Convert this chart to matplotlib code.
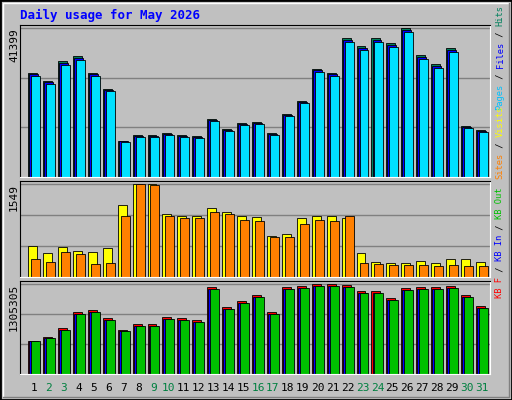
import matplotlib
matplotlib.use("Agg")
import matplotlib.pyplot as plt
import numpy as np

days = list(range(1, 32))
weekend = [2, 3, 9, 10, 16, 17, 23, 24, 30, 31]
hits = [29008, 26755, 32105, 33513, 29008, 24502, 10139, 11547, 11547, 12110, 11547, 11265, 16053, 13237, 14926, 15208,
        12110, 17461, 21122, 30134, 29008, 38584, 36331, 38584, 37176, 41399, 33796, 31261, 35767, 14082, 12955]
files = [h * 0.985 for h in hits]
pages = [h * 0.97 for h in hits]
visits = [522, 404, 505, 438, 421, 488, 1196, 1549, 1549, 1044, 1010, 1010, 1145, 1078, 1010, 994,
          690, 724, 977, 1010, 1010, 977, 404, 253, 236, 236, 269, 236, 303, 303, 253]
sites = [303, 253, 421, 387, 219, 236, 1010, 1549, 1532, 1010, 977, 977, 1078, 1044, 943, 926,
         674, 674, 876, 943, 926, 1010, 236, 219, 202, 202, 202, 185, 202, 185, 185]
kb_h = [33, 37, 45, 61, 63, 55, 44, 49, 49, 56, 55, 53, 86, 66, 72, 78, 61, 86, 87, 89, 89, 88, 82, 82, 75, 85, 86, 86, 87, 78, 67]
kbf = [h * 14666 for h in kb_h]
kbin = [v * 0.975 for v in kbf]
kbout = [v * 0.975 for v in kbf]

W, H = 512, 400
fig = plt.figure(figsize=(W / 100, H / 100), dpi=100)
fig.patch.set_facecolor("#C0C0C0")
mono = "DejaVu Sans Mono"
fig.add_artist(plt.Rectangle((0, 0), 1, 1, transform=fig.transFigure, fill=False, ec="black", lw=2))
fig.add_artist(plt.Line2D([3/W, 3/W, 1-3/W], [3/H, 1-3/H, 1-3/H], transform=fig.transFigure, color="white", lw=1))
fig.add_artist(plt.Line2D([3/W, 1-3/W, 1-3/W], [3/H, 3/H, 1-3/H], transform=fig.transFigure, color="#808080", lw=1))
fig.text(20/W, 1-15/H, "Daily usage for May 2026", color="#0000FF", family=mono, weight="bold", fontsize=9, va="center")

x = np.array(days)
L, R = 20, 490

def panel(top, bot, series, colors, ymax, label):
    ax = fig.add_axes([L/W, 1-bot/H, (R-L)/W, (bot-top)/H])
    ax.set_facecolor("#C0C0C0")
    ax.set_xlim(0.06, 31.54)
    ax.set_ylim(0, ymax * (bot-top) / (bot-top-3))
    offs = [-0.4, -0.33, -0.2] if len(series) == 3 else [-0.4, -0.2]
    for f in (1/3, 2/3, 1):
        ax.axhline(ymax * f, color="#808080", lw=1, zorder=0)
    for s, c, o in zip(series, colors, offs):
        ax.bar(x + o, s, width=0.6, align="edge", color=c, ec="black", lw=0.6, zorder=2)
    ax.set_xticks([]); ax.set_yticks([])
    for sp in ("left", "top"):
        ax.spines[sp].set_color("black")
    for sp in ("right", "bottom"):
        ax.spines[sp].set_color("white")
    fig.text(14/W, 1-(top+3)/H, label, rotation=90, ha="center", va="top", family=mono, fontsize=8)
    return ax

panel(25, 177, [hits, files, pages], ["#00805C", "#0000FF", "#00E0FF"], 41399, "41399")
panel(181, 277, [visits, sites], ["#FFFF00", "#FF8000"], 1549, "1549")
panel(281, 374, [kbf, kbin, kbout], ["#FF0000", "#0000FF", "#00C000"], 1305305, "1305305")

for d in days:
    fig.text((L + (d - 0.06) * (R-L) / 31.48) / W, 1-388/H, str(d), ha="center", va="center",
             family=mono, fontsize=8, color="#008040" if d in weekend else "black")

FS = 6.3
CH = 0.6 * FS * 100 / 72
def rlab(parts, ybottom):
    y = ybottom
    for txt, c in parts:
        fig.text(500/W, 1-y/H, txt, rotation=90, ha="center", va="bottom", family=mono, fontsize=FS, color=c)
        y -= len(txt) * CH

rlab([("Pages", "#00C0FF"), (" / ", "black"), ("Files", "#0000FF"), (" / ", "black"), ("Hits", "#00805C")], 110)
rlab([("Sites", "#FF8000"), (" / ", "black"), ("Visits", "#FFFF00")], 179)
rlab([("KB F", "#FF0000"), (" / ", "black"), ("KB In", "#0000FF"), (" / ", "black"), ("KB Out", "#00C000")], 298)

fig.savefig("out.png", dpi=100, facecolor=fig.get_facecolor())
